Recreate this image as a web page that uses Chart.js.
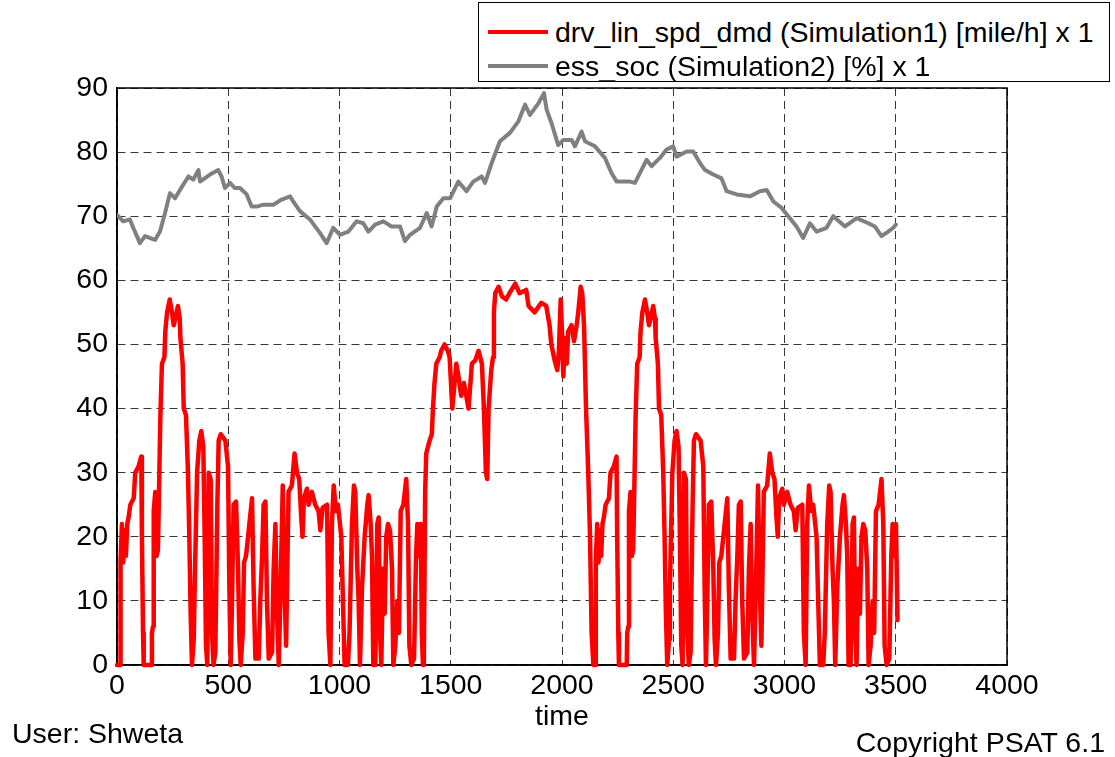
<!DOCTYPE html>
<html>
<head>
<meta charset="utf-8">
<script src="https://cdn.jsdelivr.net/npm/chart.js@4.4.1/dist/chart.umd.min.js"></script>
<style>
  html, body { margin: 0; padding: 0; background: #fff; }
  #wrap { position: relative; width: 1115px; height: 757px; font-family: Arial, "Liberation Sans", sans-serif; color: #000; }
  #plot { position: absolute; left: 0; top: 0; }
  .legend { position: absolute; left: 478px; top: 2px; width: 630px; height: 78px; border: 1px solid #000; background: #fff; }
  .swatch { position: absolute; left: 9px; width: 60px; height: 0; border-top: 4px solid; }
  .label { position: absolute; left: 76px; font-size: 28.5px; line-height: 34px; white-space: nowrap; }
  .note { position: absolute; font-size: 28.5px; line-height: 34px; white-space: nowrap; }
</style>
</head>
<body>
<div id="wrap">
  <canvas id="plot" width="1115" height="757"></canvas>
  <div class="legend">
    <div class="swatch" style="top:27px;border-color:#ff0000"></div>
    <div class="label" style="top:12px">drv_lin_spd_dmd (Simulation1) [mile/h] x 1</div>
    <div class="swatch" style="top:61px;border-color:#808080"></div>
    <div class="label" style="top:46px">ess_soc (Simulation2) [%] x 1</div>
  </div>
  <div class="note" style="left:12px;top:716px">User: Shweta</div>
  <div class="note" style="right:10px;top:725px">Copyright PSAT 6.1</div>
</div>
<script>
// axis ticks
const xTicks = [0, 500, 1000, 1500, 2000, 2500, 3000, 3500, 4000];
const yTicks = [0, 10, 20, 30, 40, 50, 60, 70, 80, 90];

// drv_lin_spd_dmd (time s, speed mile/h)
const speedTime = [
  0, 15, 16, 22, 28, 34, 40, 46, 52, 60,
  75, 82, 97, 109, 112, 117, 120, 155, 157, 162,
  165, 172, 178, 184, 195, 202, 213, 217, 225, 237,
  247, 255, 262, 274, 282, 285, 295, 300, 310, 319,
  325, 331, 337, 345, 349, 360, 370, 379, 388, 394,
  400, 406, 412, 421, 427, 434, 442, 451, 457, 466,
  487, 499, 505, 511, 517, 524, 535, 544, 550, 556,
  565, 571, 580, 589, 598, 607, 614, 622, 637, 644,
  652, 659, 667, 674, 682, 697, 704, 712, 719, 727,
  734, 745, 753, 760, 771, 786, 798, 809, 819, 828,
  834, 840, 854, 861, 876, 891, 906, 914, 924, 944,
  951, 959, 966, 974, 984, 993, 1008, 1023, 1038, 1045,
  1056, 1065, 1071, 1080, 1086, 1092, 1101, 1113, 1125, 1131,
  1140, 1146, 1152, 1161, 1170, 1176, 1182, 1188, 1195, 1203,
  1210, 1218, 1227, 1236, 1242, 1251, 1260, 1267, 1275, 1287,
  1300, 1308, 1314, 1323, 1335, 1344, 1350, 1358, 1365, 1370,
  1375,
  1379, 1385, 1390, 1405, 1415, 1420, 1427, 1435, 1450, 1457,
  1472, 1487, 1495, 1507, 1525, 1535, 1547, 1559, 1580, 1595,
  1610, 1625, 1640, 1649, 1658, 1664, 1670, 1682, 1690, 1694,
  1700, 1715, 1730, 1749, 1764, 1790, 1809, 1839, 1850, 1877,
  1907, 1929, 1944, 1952, 1967, 1979, 1986, 1994, 2000, 2006,
  2013, 2021, 2028, 2043, 2054, 2066, 2073, 2084, 2091, 2099,
  2108, 2118, 2126, 2133, 2141,
  2151, 2152, 2158, 2164, 2170, 2176, 2182, 2188, 2196, 2211,
  2218, 2233, 2245, 2248, 2253, 2256, 2291, 2293, 2298, 2301,
  2308, 2314, 2320, 2331, 2338, 2349, 2353, 2361, 2373, 2383,
  2391, 2398, 2410, 2418, 2421, 2431, 2436, 2446, 2455, 2461,
  2467, 2473, 2481, 2485, 2496, 2506, 2515, 2524, 2530, 2536,
  2542, 2548, 2557, 2563, 2570, 2578, 2587, 2593, 2602, 2623,
  2635, 2641, 2647, 2653, 2660, 2671, 2680, 2686, 2692, 2701,
  2707, 2716, 2725, 2734, 2743, 2750, 2758, 2773, 2780, 2788,
  2795, 2803, 2810, 2818, 2833, 2840, 2848, 2855, 2863, 2870,
  2881, 2889, 2896, 2907, 2922, 2934, 2945, 2955, 2964, 2970,
  2976, 2990, 2997, 3012, 3027, 3042, 3050, 3060, 3080, 3087,
  3095, 3102, 3110, 3120, 3129, 3144, 3159, 3174, 3181, 3192,
  3201, 3207, 3216, 3222, 3228, 3237, 3249, 3261, 3267, 3276,
  3282, 3288, 3297, 3306, 3312, 3318, 3324, 3331, 3339, 3346,
  3354, 3363, 3372, 3378, 3387, 3396, 3403, 3411, 3423, 3436,
  3444, 3450, 3459, 3471, 3480, 3486, 3494, 3501, 3508
];
const speedMph = [
  0, 0, 16, 22, 16, 21, 17, 22, 23, 25,
  26, 30, 31, 32.5, 20, 5, 0, 0, 5, 6,
  24, 27, 17, 18, 39, 47, 48, 52, 55, 57,
  55, 53, 54, 56, 54, 51, 47, 40, 39, 30,
  20, 8, 0, 4, 12, 30, 35, 36.5, 34, 20,
  3, 0, 30, 29, 5, 0, 2, 25, 35, 36,
  35, 31, 12, 0, 10, 25, 25.5, 15, 4, 0,
  5, 16, 17, 20, 23, 26, 12, 1, 1, 10,
  17, 25, 25.5, 10, 1, 2, 15, 22, 8, 0,
  10, 28, 12, 3, 27, 28, 33, 30, 29, 23,
  20, 26, 27.5, 25, 27, 25, 24, 21, 24.5, 25,
  5, 0, 22, 28, 24, 25, 20, 0, 0, 5,
  22, 28, 27, 15, 10, 0, 12, 20, 25, 26.5,
  22, 17, 0, 0, 22, 23, 5, 0, 15, 8,
  20, 22, 21, 15, 0, 3, 10, 5, 24, 25,
  29, 22, 3, 0, 1, 17, 22, 17, 22, 5,
  0,
  0, 27, 33, 35, 36, 40, 44, 47, 48, 49,
  50, 49, 48, 40, 47, 45, 42, 44, 40, 47,
  47.5, 49, 47, 40, 30, 29, 40, 46, 48, 55,
  58, 59, 57.5, 57, 58, 59.5, 58, 58.5, 56, 55,
  56.5, 56, 53, 50, 47.5, 46, 49, 57, 52, 45,
  51, 47, 52, 53, 50.5, 53, 55, 59, 58, 53,
  40, 30, 20, 5, 0,
  0, 16, 22, 16, 21, 17, 22, 23, 25, 26,
  30, 31, 32.5, 20, 5, 0, 0, 5, 6, 24,
  27, 17, 18, 39, 47, 48, 52, 55, 57, 55,
  53, 54, 56, 54, 51, 47, 40, 39, 30, 20,
  8, 0, 4, 12, 30, 35, 36.5, 34, 20, 3,
  0, 30, 29, 5, 0, 2, 25, 35, 36, 35,
  31, 12, 0, 10, 25, 25.5, 15, 4, 0, 5,
  16, 17, 20, 23, 26, 12, 1, 1, 10, 17,
  25, 25.5, 10, 1, 2, 15, 22, 8, 0, 10,
  28, 12, 3, 27, 28, 33, 30, 29, 23, 20,
  26, 27.5, 25, 27, 25, 24, 21, 24.5, 25, 5,
  0, 22, 28, 24, 25, 20, 0, 0, 5, 22,
  28, 27, 15, 10, 0, 12, 20, 25, 26.5, 22,
  17, 0, 0, 22, 23, 5, 0, 15, 8, 20,
  22, 21, 15, 0, 3, 10, 5, 24, 25, 29,
  22, 3, 0, 1, 17, 22, 17, 22, 7
];

// ess_soc (time s, %)
const socTime = [
  0, 28, 58, 73, 103, 126, 171, 193, 216, 238,
  261, 283, 321, 343, 366, 373, 418, 455, 470, 485,
  508, 530, 553, 583, 605, 628, 658, 703, 740, 778,
  792, 822, 867, 912, 942, 972, 1002, 1040, 1077, 1107,
  1130, 1160, 1197, 1234, 1272, 1294, 1317, 1362, 1392, 1414,
  1437, 1467, 1497, 1534, 1571, 1601, 1639, 1654, 1684, 1721,
  1766, 1804, 1834, 1856, 1894, 1919, 1931, 1953, 1983, 2006,
  2043, 2058, 2088, 2103, 2148, 2193, 2223, 2246, 2305, 2328,
  2380, 2403, 2440, 2470, 2500, 2515, 2560, 2590, 2620, 2643,
  2680, 2717, 2740, 2785, 2845, 2890, 2920, 2950, 2987, 3017,
  3054, 3084, 3114, 3144, 3189, 3219, 3272, 3324, 3377, 3406,
  3436, 3466, 3489, 3501
];
const socPct = [
  70.2, 69.2, 69.5, 68.2, 65.8, 66.9, 66.3, 67.6, 70.5, 73.6,
  72.8, 74.1, 76.2, 75.7, 77.2, 75.4, 76.5, 77.2, 76.2, 74.4,
  75.2, 74.4, 74.4, 73.4, 71.5, 71.5, 71.8, 71.8, 72.6, 73.1,
  72.3, 70.8, 69.5, 67.4, 65.8, 68.2, 67.1, 67.6, 69.2, 68.9,
  67.6, 68.7, 69.2, 68.4, 68.4, 66.1, 67.1, 68.2, 70.5, 68.4,
  71.5, 72.8, 72.8, 75.4, 73.9, 75.4, 76.2, 75.2, 78.3, 81.7,
  83, 84.8, 87.4, 85.8, 87.6, 89.2, 86.6, 84.5, 81.1, 81.9,
  81.9, 80.9, 83.2, 81.7, 80.9, 79.1, 76.7, 75.4, 75.4, 75.2,
  78.8, 77.8, 79.1, 80.4, 80.9, 79.3, 80.1, 80.1, 78.3, 77.2,
  76.5, 75.9, 73.9, 73.4, 73.1, 73.9, 74.1, 72.3, 71.3, 70,
  68.4, 66.6, 68.9, 67.6, 68.2, 70, 68.4, 69.7, 68.9, 68.4,
  66.9, 67.6, 68.2, 68.7
];

const toPoints = (xs, ys) => xs.map((x, i) => ({ x: x, y: ys[i] }));

/** solid box round the plot area, like the matlab axes; the traces go over it */
const axesBox = {
  id: 'axesBox',
  beforeDatasetsDraw(chart) {
    const a = chart.chartArea;
    const c = chart.ctx;
    c.save();
    c.strokeStyle = '#000';
    c.lineWidth = 1.5;
    c.strokeRect(a.left, a.top, a.right - a.left, a.bottom - a.top);
    c.restore();
  }
};

const tickFont = { family: 'Arial, "Liberation Sans", sans-serif', size: 28.5 };
const gridStyle = { color: '#383838', lineWidth: 1, drawTicks: false };
const gridBorder = { display: true, color: '#000', width: 1.5, dash: [8, 5] };

new Chart(document.getElementById('plot'), {
  type: 'line',
  data: {
    datasets: [
      {
        label: 'drv_lin_spd_dmd (Simulation1) [mile/h] x 1',
        data: toPoints(speedTime, speedMph),
        borderColor: '#ff0000',
        borderWidth: 4.5,
        borderJoinStyle: 'round',
        borderCapStyle: 'round',
        pointRadius: 0,
        tension: 0,
        clip: 6,
        order: 2
      },
      {
        label: 'ess_soc (Simulation2) [%] x 1',
        data: toPoints(socTime, socPct),
        borderColor: '#808080',
        borderWidth: 4,
        borderJoinStyle: 'round',
        borderCapStyle: 'round',
        pointRadius: 0,
        tension: 0,
        order: 1
      }
    ]
  },
  options: {
    animation: false,
    responsive: false,
    layout: { padding: { top: 88, right: 108, left: 0, bottom: 0 } },
    plugins: { legend: { display: false }, tooltip: { enabled: false } },
    scales: {
      x: {
        type: 'linear',
        min: 0,
        max: 4000,
        afterBuildTicks: (s) => { s.ticks = xTicks.map((v) => ({ value: v })); },
        afterFit: (s) => { s.height = 92; },
        grid: gridStyle,
        border: gridBorder,
        ticks: { color: '#000', padding: 4, font: tickFont, maxRotation: 0, autoSkip: false,
                 callback: (v) => String(v) },
        title: { display: true, text: 'time', color: '#000', font: tickFont, padding: { top: 0, bottom: 23 } }
      },
      y: {
        type: 'linear',
        min: 0,
        max: 90,
        afterBuildTicks: (s) => { s.ticks = yTicks.map((v) => ({ value: v })); },
        afterFit: (s) => { s.width = 117; },
        grid: gridStyle,
        border: gridBorder,
        ticks: { color: '#000', padding: 9, font: tickFont, autoSkip: false,
                 callback: (v) => String(v) }
      }
    }
  },
  plugins: [axesBox]
});
</script>
</body>
</html>
